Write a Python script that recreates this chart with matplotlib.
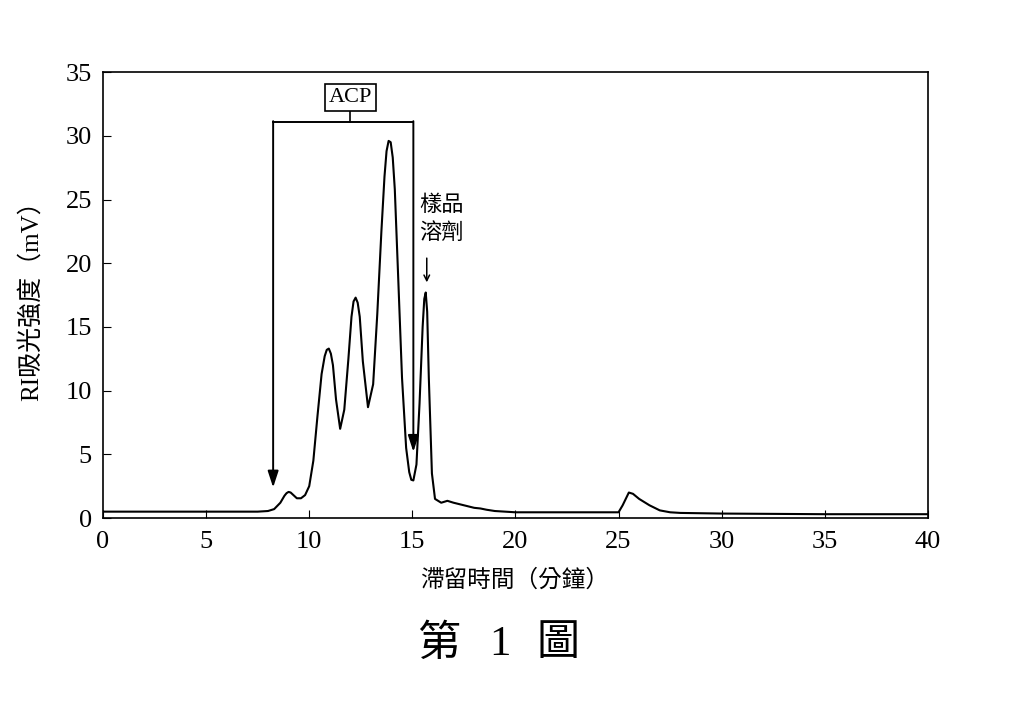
import matplotlib.pyplot as plt

plt.rcParams['font.family'] = ['Liberation Serif', 'Noto Sans CJK TC']

# retention time (min) and RI signal (mV)
time = [0, 2, 4, 6, 7.5, 8.0, 8.3, 8.6, 8.8, 8.9, 9.0, 9.1, 9.2, 9.4, 9.6,
        9.8, 10.0, 10.2, 10.4, 10.6, 10.75, 10.85, 10.95, 11.05, 11.15, 11.3,
        11.5, 11.7, 11.9, 12.05, 12.15, 12.25, 12.35, 12.45, 12.6, 12.85,
        13.1, 13.3, 13.5, 13.65, 13.75, 13.85, 13.95, 14.05, 14.15, 14.3,
        14.5, 14.7, 14.85, 14.95, 15.05, 15.2, 15.35, 15.5, 15.58, 15.65,
        15.72, 15.8, 15.95, 16.1, 16.4, 16.7, 17.0, 17.5, 18.0, 18.3, 18.6,
        19, 20, 22, 24, 25.0, 25.2, 25.5, 25.7, 26, 26.5, 27, 27.5, 28, 30,
        35, 40]
signal = [0.5, 0.5, 0.5, 0.5, 0.5, 0.55, 0.7, 1.2, 1.75, 1.95, 2.05, 2.0,
          1.85, 1.55, 1.55, 1.8, 2.5, 4.5, 8.0, 11.3, 12.7, 13.2, 13.3, 12.9,
          12.0, 9.3, 7.0, 8.5, 12.5, 15.8, 17.0, 17.3, 16.9, 15.8, 12.3, 8.7,
          10.5, 16.0, 22.5, 26.8, 28.8, 29.6, 29.5, 28.3, 25.8, 19.5, 11.0,
          5.5, 3.6, 3.0, 2.95, 4.2, 9.0, 15.0, 17.2, 17.7, 16.2, 11.0, 3.5,
          1.5, 1.2, 1.35, 1.2, 1.0, 0.8, 0.75, 0.65, 0.55, 0.45, 0.45, 0.45,
          0.45, 1.0, 2.0, 1.9, 1.5, 1.0, 0.6, 0.45, 0.4, 0.35, 0.3, 0.3]

x_ticks = [0, 5, 10, 15, 20, 25, 30, 35, 40]
y_ticks = [0, 5, 10, 15, 20, 25, 30, 35]

# ACP fraction bracket
acp_start, acp_end = 8.25, 15.05
bracket_y = 31.1

fig = plt.figure(figsize=(10.24, 7.07), dpi=100)
ax = fig.add_axes([0.1006, 0.2673, 0.8055, 0.6307])

ax.plot(time, signal, color='black', lw=1.5)

ax.set_xlim(0, 40)
ax.set_ylim(0, 35)
ax.set_xticks(x_ticks)
ax.set_yticks(y_ticks)
ax.tick_params(direction='in', length=6, labelsize=19, top=False, right=False)
ax.tick_params(axis='x', pad=9)
ax.tick_params(axis='y', pad=8)
for s in ax.spines.values():
    s.set_linewidth(1.2)

# bracket with arrows
arrow_style = '-|>,head_length=0.55,head_width=0.18'
ax.plot([acp_start, acp_end], [bracket_y, bracket_y], color='black', lw=1.4)
ax.annotate('', xy=(acp_start, 2.4), xytext=(acp_start, bracket_y + 0.05),
            arrowprops=dict(arrowstyle=arrow_style, color='black', lw=1.4,
                            mutation_scale=18, shrinkA=0, shrinkB=0))
ax.annotate('', xy=(acp_end, 5.2), xytext=(acp_end, bracket_y + 0.05),
            arrowprops=dict(arrowstyle=arrow_style, color='black', lw=1.4,
                            mutation_scale=18, shrinkA=0, shrinkB=0))
ax.plot([12.0, 12.0], [bracket_y, 32.1], color='black', lw=1.2)
ax.text(12.0, 33.0, 'ACP', ha='center', va='center', fontsize=16,
        bbox=dict(boxstyle='square,pad=0.18', fc='white', ec='black', lw=1.2))

# solvent peak label
ax.text(15.35, 23.5, '樣品\n溶劑', ha='left', va='center', fontsize=16,
        linespacing=1.25, family=['Noto Sans CJK TC'])
ax.annotate('', xy=(15.7, 18.5), xytext=(15.7, 20.4),
            arrowprops=dict(arrowstyle='->', color='black', lw=1.1,
                            shrinkA=0, shrinkB=0))

ax.set_ylabel('RI吸光強度（mV）', fontsize=18, labelpad=16)
ax.set_xlabel('滯留時間（分鐘）', fontsize=17, labelpad=12)
fig.text(0.428, 0.088, '第', ha='center', va='center', fontsize=31)
fig.text(0.488, 0.088, '1', ha='center', va='center', fontsize=31)
fig.text(0.545, 0.088, '圖', ha='center', va='center', fontsize=31)

plt.savefig('out.png', dpi=100)
